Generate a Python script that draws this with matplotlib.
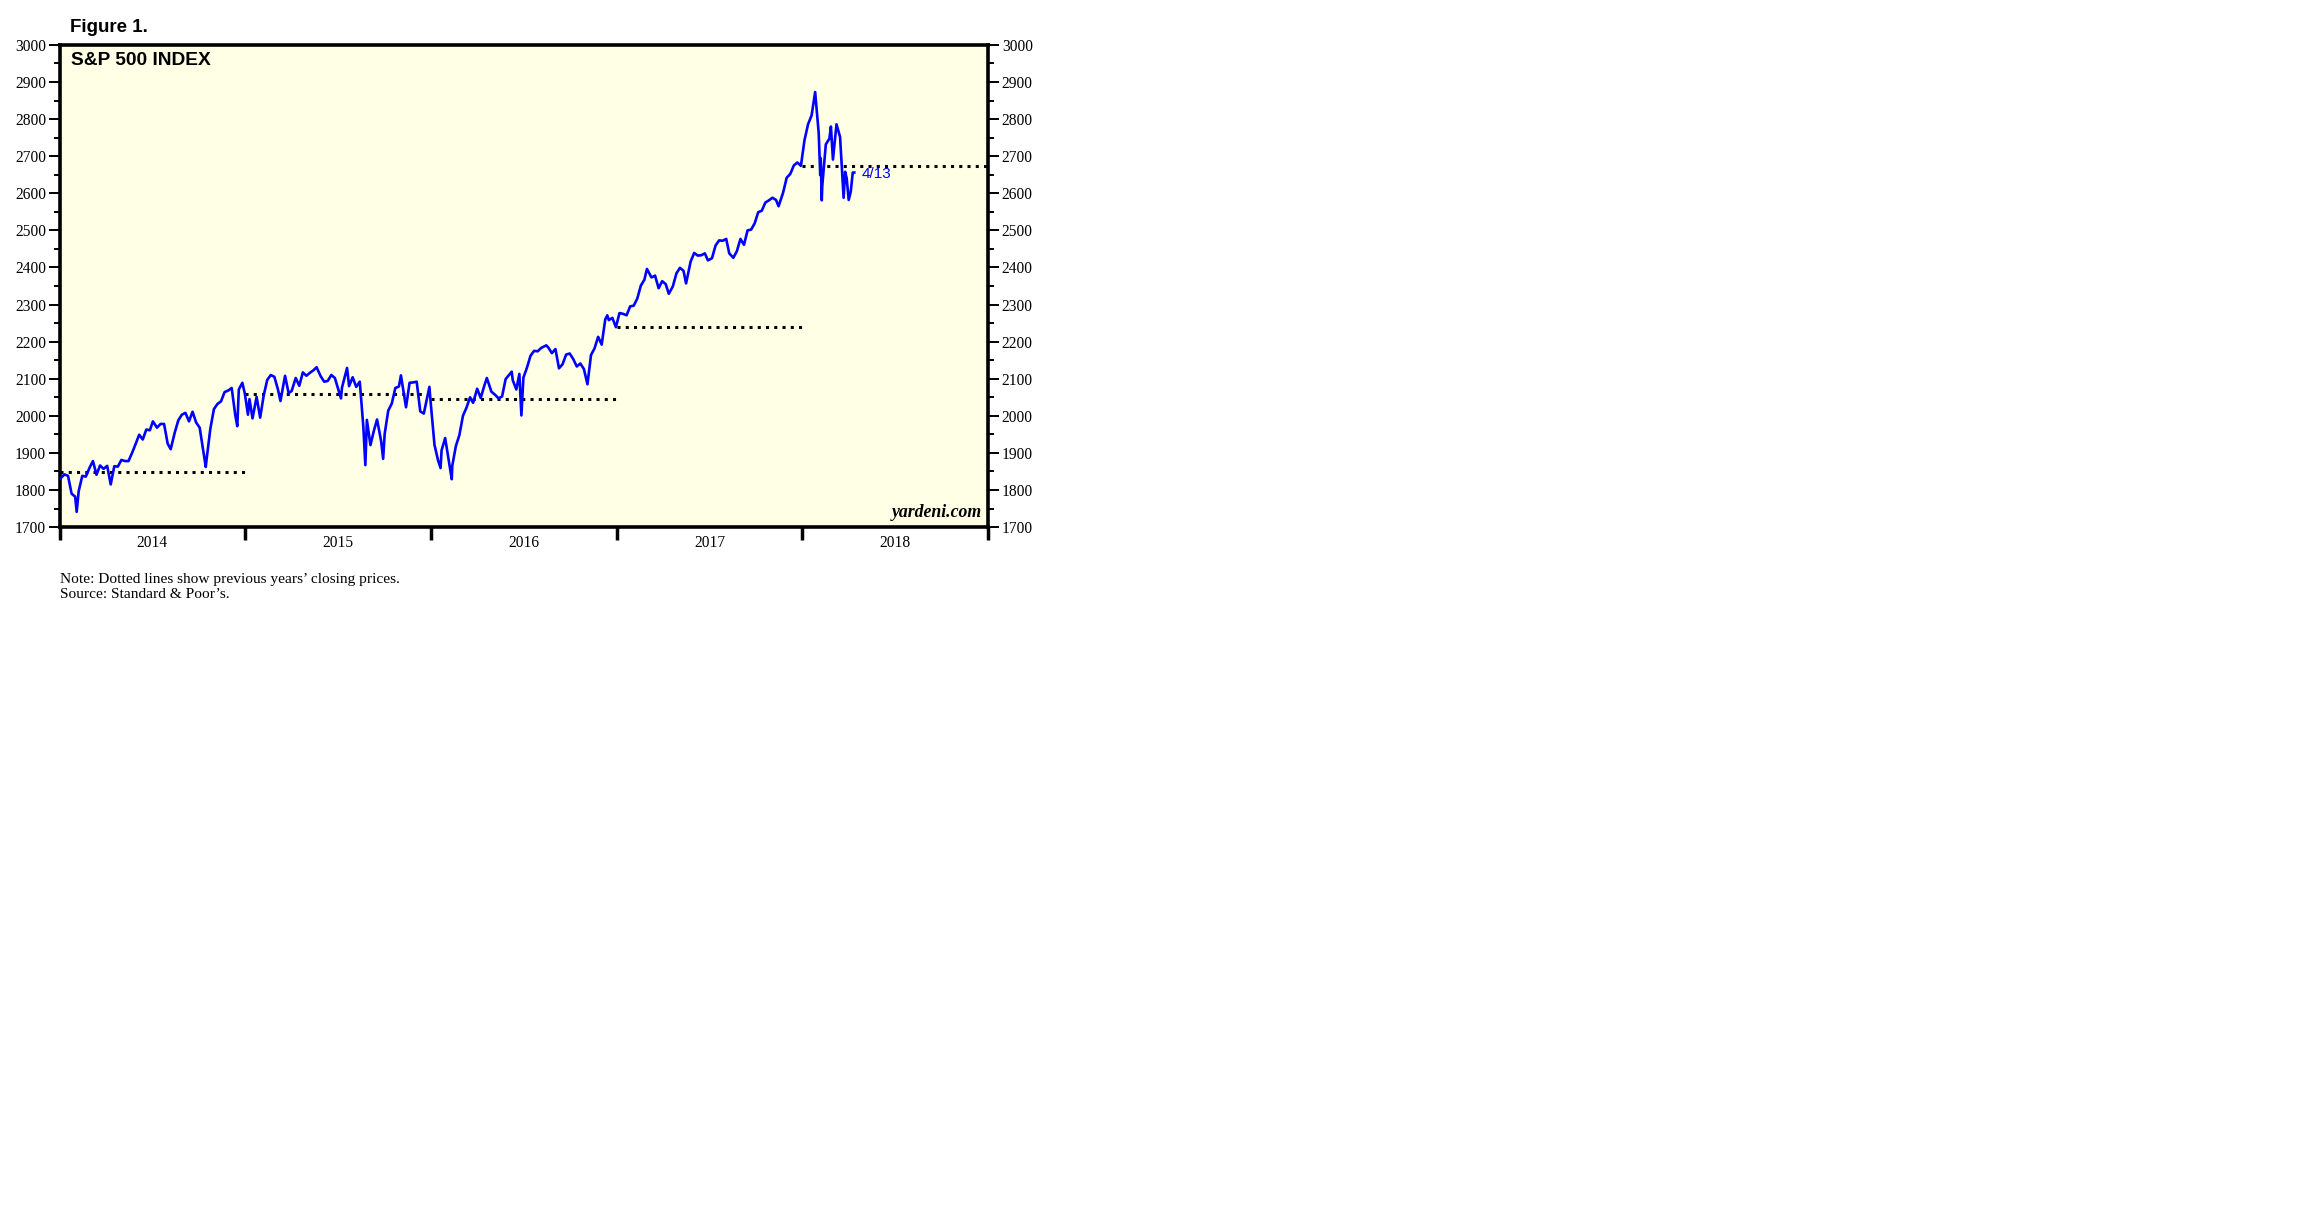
import numpy as np
import pandas as pd
import matplotlib
matplotlib.use('Agg')
import matplotlib.pyplot as plt
import matplotlib.dates as mdates
from matplotlib.ticker import MultipleLocator, NullFormatter

# S&P 500 closes (weekly, plus a few daily extremes)
sp500 = [
    ("2014-01-02", 1831), ("2014-01-10", 1842), ("2014-01-17", 1838), ("2014-01-24", 1790),
    ("2014-01-31", 1782), ("2014-02-03", 1741), ("2014-02-07", 1797), ("2014-02-14", 1838),
    ("2014-02-21", 1836), ("2014-02-28", 1859), ("2014-03-07", 1878), ("2014-03-14", 1841),
    ("2014-03-21", 1866), ("2014-03-28", 1857), ("2014-04-04", 1865), ("2014-04-11", 1815),
    ("2014-04-18", 1864), ("2014-04-25", 1863), ("2014-05-02", 1881), ("2014-05-09", 1878),
    ("2014-05-16", 1878), ("2014-05-23", 1900), ("2014-05-30", 1924), ("2014-06-06", 1949),
    ("2014-06-13", 1936), ("2014-06-20", 1963), ("2014-06-27", 1961), ("2014-07-03", 1985),
    ("2014-07-11", 1968), ("2014-07-18", 1978), ("2014-07-25", 1978), ("2014-08-01", 1925),
    ("2014-08-07", 1910), ("2014-08-15", 1955), ("2014-08-22", 1988), ("2014-08-29", 2003),
    ("2014-09-05", 2008), ("2014-09-12", 1985), ("2014-09-19", 2011), ("2014-09-26", 1982),
    ("2014-10-03", 1968), ("2014-10-10", 1906), ("2014-10-15", 1862), ("2014-10-17", 1887),
    ("2014-10-24", 1965), ("2014-10-31", 2018), ("2014-11-07", 2032), ("2014-11-14", 2039),
    ("2014-11-21", 2064), ("2014-11-28", 2068), ("2014-12-05", 2075), ("2014-12-12", 2002),
    ("2014-12-16", 1972), ("2014-12-19", 2071), ("2014-12-26", 2089), ("2014-12-31", 2059),
    ("2015-01-06", 2003), ("2015-01-09", 2045), ("2015-01-15", 1993), ("2015-01-23", 2051),
    ("2015-01-30", 1995), ("2015-02-06", 2055), ("2015-02-13", 2097), ("2015-02-20", 2110),
    ("2015-02-27", 2105), ("2015-03-06", 2071), ("2015-03-11", 2040), ("2015-03-20", 2108),
    ("2015-03-27", 2061), ("2015-04-02", 2067), ("2015-04-10", 2102), ("2015-04-17", 2081),
    ("2015-04-24", 2117), ("2015-05-01", 2108), ("2015-05-08", 2116), ("2015-05-15", 2123),
    ("2015-05-21", 2131), ("2015-05-29", 2107), ("2015-06-05", 2092), ("2015-06-12", 2094),
    ("2015-06-19", 2110), ("2015-06-26", 2102), ("2015-07-08", 2047), ("2015-07-10", 2076),
    ("2015-07-20", 2129), ("2015-07-24", 2080), ("2015-07-31", 2104), ("2015-08-07", 2078),
    ("2015-08-14", 2092), ("2015-08-21", 1971), ("2015-08-25", 1867), ("2015-08-28", 1989),
    ("2015-09-04", 1921), ("2015-09-11", 1961), ("2015-09-17", 1990), ("2015-09-25", 1932),
    ("2015-09-29", 1884), ("2015-10-02", 1951), ("2015-10-09", 2014), ("2015-10-16", 2033),
    ("2015-10-23", 2075), ("2015-10-30", 2079), ("2015-11-03", 2109), ("2015-11-13", 2023),
    ("2015-11-20", 2089), ("2015-11-27", 2090), ("2015-12-04", 2092), ("2015-12-11", 2012),
    ("2015-12-18", 2006), ("2015-12-29", 2078), ("2015-12-31", 2044),
    ("2016-01-08", 1922), ("2016-01-15", 1880), ("2016-01-20", 1859), ("2016-01-22", 1907),
    ("2016-01-29", 1940), ("2016-02-05", 1880), ("2016-02-11", 1829), ("2016-02-12", 1865),
    ("2016-02-19", 1918), ("2016-02-26", 1948), ("2016-03-04", 2000), ("2016-03-11", 2022),
    ("2016-03-18", 2050), ("2016-03-24", 2035), ("2016-04-01", 2073), ("2016-04-08", 2048),
    ("2016-04-15", 2081), ("2016-04-20", 2102), ("2016-04-29", 2065), ("2016-05-06", 2057),
    ("2016-05-13", 2047), ("2016-05-20", 2052), ("2016-05-27", 2099), ("2016-06-08", 2119),
    ("2016-06-10", 2096), ("2016-06-17", 2071), ("2016-06-23", 2113), ("2016-06-27", 2001),
    ("2016-07-01", 2103), ("2016-07-08", 2130), ("2016-07-15", 2162), ("2016-07-22", 2175),
    ("2016-07-29", 2174), ("2016-08-05", 2183), ("2016-08-15", 2190), ("2016-08-19", 2184),
    ("2016-08-26", 2169), ("2016-09-02", 2180), ("2016-09-09", 2128), ("2016-09-16", 2139),
    ("2016-09-23", 2165), ("2016-09-30", 2168), ("2016-10-07", 2153), ("2016-10-14", 2133),
    ("2016-10-21", 2141), ("2016-10-28", 2126), ("2016-11-04", 2085), ("2016-11-11", 2164),
    ("2016-11-18", 2182), ("2016-11-25", 2213), ("2016-12-02", 2192), ("2016-12-09", 2260),
    ("2016-12-13", 2271), ("2016-12-16", 2258), ("2016-12-23", 2264), ("2016-12-30", 2239),
    ("2017-01-06", 2277), ("2017-01-13", 2275), ("2017-01-20", 2271), ("2017-01-27", 2295),
    ("2017-02-03", 2297), ("2017-02-10", 2316), ("2017-02-17", 2351), ("2017-02-24", 2367),
    ("2017-03-01", 2396), ("2017-03-10", 2373), ("2017-03-17", 2378), ("2017-03-24", 2344),
    ("2017-03-31", 2363), ("2017-04-07", 2355), ("2017-04-13", 2329), ("2017-04-21", 2349),
    ("2017-04-28", 2384), ("2017-05-05", 2399), ("2017-05-12", 2391), ("2017-05-17", 2357),
    ("2017-05-26", 2416), ("2017-06-02", 2439), ("2017-06-09", 2432), ("2017-06-16", 2433),
    ("2017-06-23", 2438), ("2017-06-29", 2419), ("2017-07-07", 2425), ("2017-07-14", 2459),
    ("2017-07-21", 2473), ("2017-07-28", 2472), ("2017-08-04", 2477), ("2017-08-10", 2438),
    ("2017-08-18", 2426), ("2017-08-25", 2444), ("2017-09-01", 2477), ("2017-09-08", 2461),
    ("2017-09-15", 2500), ("2017-09-22", 2502), ("2017-09-29", 2519), ("2017-10-06", 2549),
    ("2017-10-13", 2553), ("2017-10-20", 2575), ("2017-10-27", 2581), ("2017-11-03", 2588),
    ("2017-11-10", 2582), ("2017-11-15", 2565), ("2017-11-24", 2602), ("2017-12-01", 2642),
    ("2017-12-08", 2652), ("2017-12-15", 2675), ("2017-12-22", 2683), ("2017-12-29", 2674),
    ("2018-01-05", 2743), ("2018-01-12", 2786), ("2018-01-19", 2810), ("2018-01-26", 2873),
    ("2018-02-02", 2762), ("2018-02-05", 2649), ("2018-02-06", 2695), ("2018-02-08", 2581),
    ("2018-02-09", 2620), ("2018-02-16", 2732), ("2018-02-23", 2747), ("2018-02-26", 2780),
    ("2018-03-02", 2691), ("2018-03-09", 2786), ("2018-03-16", 2752), ("2018-03-23", 2588),
    ("2018-03-26", 2658), ("2018-03-29", 2641), ("2018-04-02", 2582), ("2018-04-06", 2604),
    ("2018-04-10", 2656), ("2018-04-13", 2656),
]

# previous years' closing prices (dotted lines)
years = [2014, 2015, 2016, 2017, 2018]
prev_close = [1848, 2059, 2044, 2239, 2674]

dates = pd.to_datetime([d for d, v in sp500])
closes = [v for d, v in sp500]

plt.rcParams['font.family'] = ['Liberation Serif', 'DejaVu Serif']

fig = plt.figure(figsize=(23.04, 12.28), dpi=100)
ax = fig.add_axes([0.026, 0.5708, 0.4028, 0.3926])
ax.set_facecolor('#FFFFE6')

for yr, pc in zip(years, prev_close):
    ax.plot([pd.Timestamp(yr, 1, 1), pd.Timestamp(yr + 1, 1, 1)], [pc, pc],
            color='black', linestyle=(0, (1, 1.7)), lw=2.2, zorder=2)

ax.plot(dates, closes, color='#0000FF', lw=1.9, zorder=3)

ax.set_xlim(pd.Timestamp(2014, 1, 1), pd.Timestamp(2019, 1, 1))
ax.set_ylim(1700, 3000)

# y axis on both sides
ax.yaxis.set_major_locator(MultipleLocator(100))
ax.yaxis.set_minor_locator(MultipleLocator(50))
ax.tick_params(axis='y', which='major', direction='out', length=8, width=1.4,
               labelsize=11.2, left=True, right=True, labelleft=True, labelright=True, pad=2)
ax.tick_params(axis='y', which='minor', direction='out', length=4, width=1.4,
               left=True, right=True)

# x axis: ticks at year boundaries, labels mid-year
ax.set_xticks([pd.Timestamp(y, 1, 1) for y in years + [2019]])
ax.xaxis.set_major_formatter(NullFormatter())
ax.set_xticks([pd.Timestamp(y, 7, 2) for y in years], minor=True)
ax.set_xticklabels([str(y) for y in years], minor=True)
ax.tick_params(axis='x', which='major', direction='out', length=9, width=2.5)
ax.tick_params(axis='x', which='minor', length=0, labelsize=11.2, pad=6)

for s in ax.spines.values():
    s.set_linewidth(2.6)

ax.text(0.012, 0.985, 'S&P 500 INDEX', transform=ax.transAxes, ha='left', va='top',
        fontsize=13.8, fontweight='bold', family=['Liberation Sans', 'DejaVu Sans'])
ax.text(0.993, 0.012, 'yardeni.com', transform=ax.transAxes, ha='right', va='bottom',
        fontsize=12.8, fontweight='bold', style='italic')
ax.annotate('4/13', xy=(dates[-1], closes[-1]), xytext=(5, -1), textcoords='offset points',
            ha='left', va='center', color='#0000FF', fontsize=11,
            family=['Liberation Sans', 'DejaVu Sans'])

fig.text(70 / 2304, 1 - 27 / 1228, 'Figure 1.', ha='left', va='center',
         fontsize=13.5, fontweight='bold', family=['Liberation Sans', 'DejaVu Sans'])
fig.text(60 / 2304, 1 - 579 / 1228, "Note: Dotted lines show previous years\u2019 closing prices.",
         ha='left', va='center', fontsize=11.1)
fig.text(60 / 2304, 1 - 594 / 1228, "Source: Standard & Poor\u2019s.",
         ha='left', va='center', fontsize=11.1)

fig.savefig('out.png', dpi=100)
